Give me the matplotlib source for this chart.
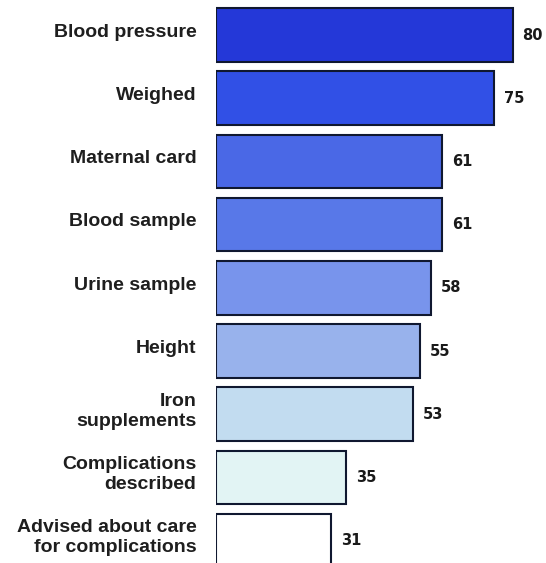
import matplotlib.pyplot as plt

labels = ["Blood pressure", "Weighed", "Maternal card", "Blood sample",
          "Urine sample", "Height", "Iron\nsupplements",
          "Complications\ndescribed",
          "Advised about care\nfor complications"]
values = [80, 75, 61, 61, 58, 55, 53, 35, 31]
colors = ["#2438d8", "#3150e6", "#4a68e6", "#5878e8", "#7894ec",
          "#98b2ec", "#c2dcf0", "#e2f4f4", "#ffffff"]

plt.rcParams['font.family'] = ['Liberation Sans', 'DejaVu Sans']

fig = plt.figure(figsize=(5.46, 5.63), dpi=100)
ax = fig.add_axes([216 / 546, 0, 330 / 546, 1])

ypos = list(range(len(values)))
ax.barh(ypos, values, height=0.85, color=colors, edgecolor="#101830",
        linewidth=1.5)

for y, v, lab in zip(ypos, values, labels):
    # value labels
    ax.annotate(f"{v}", (v, y), xytext=(7, 0), textcoords="offset points",
                ha="left", va="center", fontsize=10.5, fontweight="bold",
                family="DejaVu Sans", color="#1a1a1a")
    # category labels
    ax.annotate(lab, (0, y), xytext=(-14, 2), textcoords="offset points",
                ha="right", va="center", fontsize=14, fontweight="bold",
                color="#1e1e1e", linespacing=1.25, annotation_clip=False)

ax.set_xlim(0, 330 / 3.71)
ax.set_ylim(8.354, -0.554)
ax.axis("off")

fig.savefig("out.png", dpi=100)
